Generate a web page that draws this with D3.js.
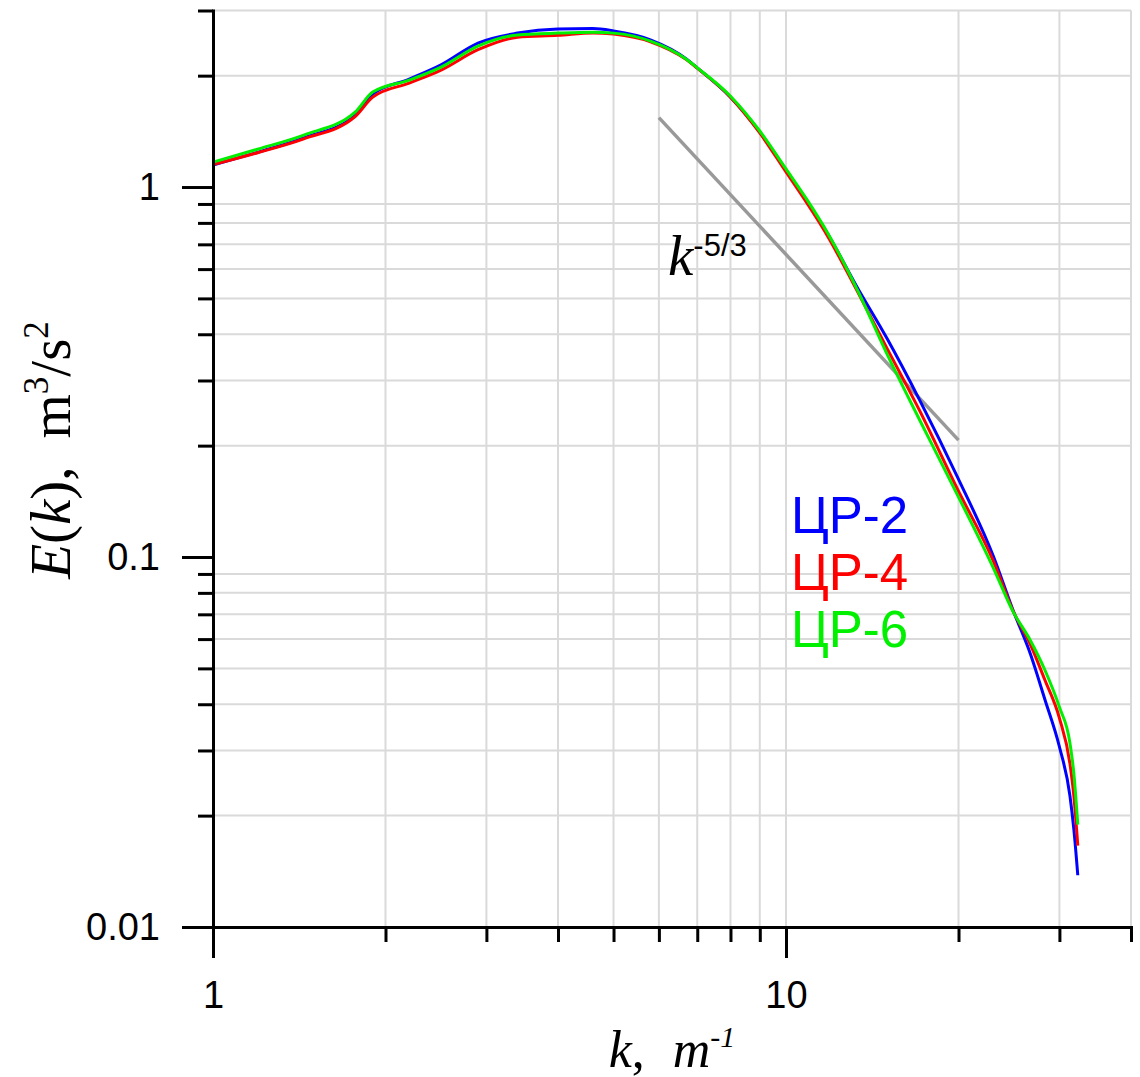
<!DOCTYPE html>
<html>
<head>
<meta charset="utf-8">
<script src="https://cdn.jsdelivr.net/npm/d3@7"></script>
<style>
  body { margin: 0; background: #fff; }
  .axis path, .axis line { stroke: #000; stroke-width: 3; }
  .axis text { font-family: 'Liberation Sans', Arial, sans-serif; font-size: 38px; fill: #000; }
  .grid line { stroke: #dadada; stroke-width: 2; }
  .serif { font-family: 'Liberation Serif', 'Times New Roman', serif; }
  .sans { font-family: 'Liberation Sans', Arial, sans-serif; }
</style>
</head>
<body>
<script>
// wavenumbers, m^-1
const kValues = [1, 1.2, 1.44, 1.77, 1.9, 2.2, 2.5, 2.9, 3.4, 4, 4.6, 5, 5.8, 6.7, 7, 8, 9, 10,
  10.9, 11.8, 13.3, 15, 17.1, 19.9, 23, 24.9, 26.7, 28.3, 30, 31.3, 31.8, 32.3]

// spectra E(k), m^3/s^2
const energyCR2 = [1.147, 1.243, 1.357, 1.565, 1.783, 1.958, 2.14, 2.45, 2.607, 2.674, 2.68, 2.641,
  2.5, 2.22, 2.1, 1.75, 1.408, 1.111, 0.91, 0.751, 0.537, 0.39, 0.266, 0.165, 0.1006, 0.0718,
  0.0547, 0.0412, 0.0307, 0.0226, 0.0183, 0.0138]
const energyCR4 = [1.15, 1.24, 1.35, 1.55, 1.75, 1.91, 2.07, 2.35, 2.54, 2.57, 2.61, 2.59,
  2.47, 2.21, 2.095, 1.75, 1.40, 1.098, 0.90, 0.74, 0.525, 0.367, 0.249, 0.153, 0.0976, 0.0715,
  0.058, 0.0465, 0.0367, 0.0276, 0.0225, 0.0166]
const energyCR6 = [1.168, 1.267, 1.382, 1.594, 1.806, 1.946, 2.11, 2.405, 2.576, 2.606, 2.62, 2.606,
  2.48, 2.215, 2.1, 1.76, 1.417, 1.119, 0.92, 0.755, 0.53, 0.354, 0.235, 0.1475, 0.0935, 0.0712,
  0.0595, 0.0495, 0.0393, 0.0314, 0.0259, 0.0189]

const seriesNames = ['ЦР-2', 'ЦР-4', 'ЦР-6']
const seriesColors = ['#0000ff', '#ff0000', '#00f000']

// -5/3 reference slope
const refK = [6, 20]
const refE = [1.54, 0.207]

// ticks
const xMajor = [1, 10]
const xMinor = [2, 3, 4, 5, 6, 7, 8, 9, 20, 30, 40]
const yMajor = [0.01, 0.1, 1]
const yMinor = [0.02, 0.03, 0.04, 0.05, 0.06, 0.07, 0.08, 0.09,
  0.2, 0.3, 0.4, 0.5, 0.6, 0.7, 0.8, 0.9, 2, 3]

const width = 1140
const height = 1077
const margin = {top: 10.5, right: 9, bottom: 150, left: 213}

const svg = d3.select('body').append('svg')
  .attr('width', width)
  .attr('height', height)

const x = d3.scaleLog().domain([1, 40]).range([margin.left, width - margin.right])
const y = d3.scaleLog().domain([0.01, 3]).range([height - margin.bottom, margin.top])

// grid
const grid = svg.append('g').classed('grid', true)
grid.selectAll('.vx').data(xMinor.concat([10])).enter()
  .append('line')
  .attr('x1', d => x(d)).attr('x2', d => x(d))
  .attr('y1', y.range()[0]).attr('y2', y.range()[1])
grid.selectAll('.hy').data(yMinor).enter()
  .append('line')
  .attr('x1', x.range()[0]).attr('x2', x.range()[1])
  .attr('y1', d => y(d)).attr('y2', d => y(d))

// reference line
svg.append('path')
  .datum(refK.map((k, i) => [k, refE[i]]))
  .attr('fill', 'none')
  .attr('stroke', '#999')
  .attr('stroke-width', 3.5)
  .attr('d', d3.line().x(d => x(d[0])).y(d => y(d[1])))

// spectra
const line = d3.line()
  .x(d => x(d[0]))
  .y(d => y(d[1]))
  .curve(d3.curveMonotoneX)

const series = [energyCR2, energyCR4, energyCR6]
series.forEach((vals, i) => {
  svg.append('path')
    .datum(kValues.map((k, j) => [k, vals[j]]))
    .attr('fill', 'none')
    .attr('stroke', seriesColors[i])
    .attr('stroke-width', 3)
    .attr('stroke-linejoin', 'round')
    .attr('d', line)
})

// axes
const xAxisY = y.range()[0]
svg.append('g').classed('axis', true)
  .attr('transform', `translate(0,${xAxisY})`)
  .call(d3.axisBottom(x).tickValues(xMinor).tickSize(15).tickSizeOuter(0).tickFormat(''))
  .call(g => g.select('.domain').remove())
svg.append('g').classed('axis', true)
  .attr('transform', `translate(0,${xAxisY})`)
  .call(d3.axisBottom(x).tickValues(xMajor).tickSize(31).tickSizeOuter(0)
    .tickPadding(23).tickFormat(d3.format('d')))

svg.append('g').classed('axis', true)
  .attr('transform', `translate(${margin.left},0)`)
  .call(d3.axisLeft(y).tickValues(yMinor).tickSize(15).tickSizeOuter(0).tickFormat(''))
  .call(g => g.select('.domain').remove())
svg.append('g').classed('axis', true)
  .attr('transform', `translate(${margin.left},0)`)
  .call(d3.axisLeft(y).tickValues(yMajor).tickSize(31).tickSizeOuter(0)
    .tickPadding(22).tickFormat(d => d3.format('~g')(d)))

svg.selectAll('.axis path.domain').attr('stroke-linecap', 'square')

// legend
svg.append('g').selectAll('text').data(seriesNames).enter()
  .append('text')
  .classed('sans', true)
  .attr('x', 791)
  .attr('y', (d, i) => 533 + i * 57)
  .attr('fill', (d, i) => seriesColors[i])
  .style('font-size', '51px')
  .text(d => d)

// k^-5/3 annotation
const ann = svg.append('text').attr('x', 668).attr('y', 275)
ann.append('tspan').classed('serif', true).style('font-style', 'italic')
  .style('font-size', '57px').text('k')
ann.append('tspan').classed('sans', true).attr('dy', -19)
  .style('font-size', '31px').text('-5/3')

// x axis title
const xt = svg.append('text')
  .classed('serif', true)
  .attr('x', (x.range()[0] + x.range()[1]) / 2)
  .attr('y', 1067)
  .attr('text-anchor', 'middle')
  .style('font-size', '52px')
xt.append('tspan').style('font-style', 'italic').text('k')
xt.append('tspan').text(',')
xt.append('tspan').attr('dx', 28).style('font-style', 'italic').text('m')
xt.append('tspan').attr('dy', -20).style('font-style', 'italic').style('font-size', '30px').text('-1')

// y axis title
const yt = svg.append('text')
  .classed('serif', true)
  .attr('transform', 'translate(70,450) rotate(-90)')
  .attr('text-anchor', 'middle')
  .style('font-size', '57px')
yt.append('tspan').style('font-style', 'italic').text('E')
yt.append('tspan').text('(')
yt.append('tspan').style('font-style', 'italic').text('k')
yt.append('tspan').text('),')
yt.append('tspan').attr('dx', 28).text('m')
yt.append('tspan').attr('dy', -22).style('font-size', '35px').text('3')
yt.append('tspan').attr('dy', 22).text('/s')
yt.append('tspan').attr('dy', -22).style('font-size', '35px').text('2')
</script>
</body>
</html>
